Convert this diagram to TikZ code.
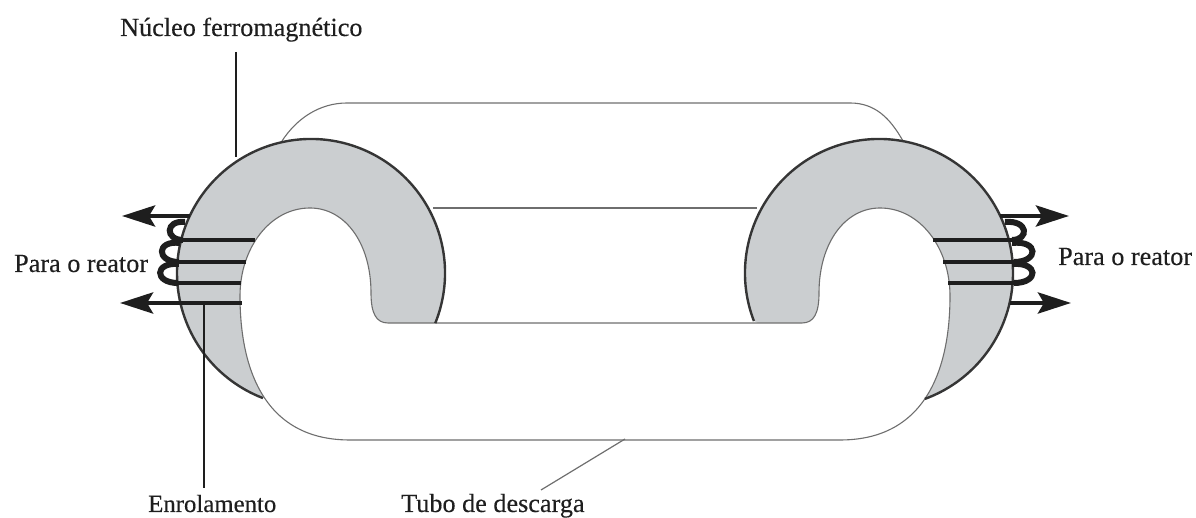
\documentclass[tikz,border=0pt]{standalone}
\usepackage{fontspec}
\setmainfont{Liberation Serif}
\newfontfamily\labfont[FakeBold=0.25]{Liberation Serif}
\usetikzlibrary{arrows.meta}
\definecolor{coregray}{HTML}{CBCED0}
\definecolor{ink}{HTML}{1E1E1E}
\definecolor{thin}{HTML}{6E6E6E}
\tikzset{
  x=1pt,y=1pt,
  lab/.style={inner sep=0pt,anchor=base west,text=ink,font=\labfont\fontsize{26.2}{29}\selectfont},
  tubeline/.style={draw=thin,line width=1.1pt},
  rim/.style={draw=ink!90,line width=2.4pt},
  winding/.style={draw=ink,line width=3.6pt},
  coil/.style={draw=ink,line width=6pt},
  lead/.style={draw=ink,-{Stealth[length=33pt,width=21pt,inset=6pt]},line width=4.6pt},
  pointer/.style={draw=ink,line width=2pt},
  pointerthin/.style={draw=thin,line width=1.2pt}
}
\begin{document}
\begin{tikzpicture}
\useasboundingbox (0,0) rectangle (1196,518);
% upper part of the tube, behind the core
\draw[tubeline] (282,377) .. controls (297,400) and (320,415) .. (347,415) -- (850,415)
   .. controls (875,415) and (890,400) .. (903,377);
\draw[tubeline] (433,310) -- (757,310);
% core halves
\fill[coregray] (311,245) ++(-22:134) arc[start angle=-22,end angle=249,radius=134] -- cycle;
\fill[coregray] (879,245) ++(201:134) arc[start angle=201,end angle=-70,radius=134] -- cycle;
% discharge tube
\path[fill=white,tubeline]
  (435,195) -- (388,195) .. controls (376,195) and (371,205) .. (371,225)
  .. controls (371,275) and (345,310) .. (310,310)
  .. controls (270,310) and (240,270) .. (240,222)
  .. controls (240,165) and (255,78) .. (350,78)
  -- (840,78)
  .. controls (935,78) and (950,165) .. (950,222)
  .. controls (950,270) and (920,310) .. (880,310)
  .. controls (845,310) and (819,275) .. (819,225)
  .. controls (819,205) and (814,195) .. (802,195)
  -- (753,195) -- cycle;
% core rims
\draw[rim] (311,245) ++(-22:134) arc[start angle=-22,end angle=249,radius=134];
\draw[rim] (879,245) ++(201:134) arc[start angle=201,end angle=-70,radius=134];
% named points
\coordinate (lA) at (255,278); \coordinate (lAe) at (183,278);
\coordinate (lB) at (246,256); \coordinate (lBe) at (179,256);
\coordinate (lC) at (241,235); \coordinate (lCe) at (178,235);
\coordinate (lTop) at (190,302); \coordinate (lTopTip) at (122,302);
\coordinate (lBot) at (242,215); \coordinate (lBotTip) at (120,215);
\coordinate (rA) at (933,278); \coordinate (rAe) at (1012,278);
\coordinate (rB) at (943,256); \coordinate (rBe) at (1014,256);
\coordinate (rC) at (948,235); \coordinate (rCe) at (1014,235);
\coordinate (rTop) at (1000,302); \coordinate (rTopTip) at (1069,302);
\coordinate (rBot) at (1010,215); \coordinate (rBotTip) at (1071,215);
% windings left
\draw[winding] (lA) -- (lAe);
\draw[winding] (lB) -- (lBe);
\draw[winding] (lC) -- (lCe);
\draw[coil] (185,296) .. controls (165,298) and (165,278) .. (lAe);
\draw[coil] (180,275) .. controls (156,278) and (156,256) .. (lBe);
\draw[coil] (179,254) .. controls (154,256) and (154,235) .. (lCe);
\draw[lead] (lTop) -- (lTopTip);
\draw[lead] (lBot) -- (lBotTip);
% windings right
\draw[winding] (rA) -- (rAe);
\draw[winding] (rB) -- (rBe);
\draw[winding] (rC) -- (rCe);
\draw[coil] (1005,296) .. controls (1029,298) and (1029,278) .. (rAe);
\draw[coil] (1012,275) .. controls (1039,278) and (1039,256) .. (rBe);
\draw[coil] (1012,254) .. controls (1039,256) and (1039,235) .. (rCe);
\draw[lead] (rTop) -- (rTopTip);
\draw[lead] (rBot) -- (rBotTip);
% labels
\node[lab] (nucleo) at (120,482) {Núcleo ferromagnético};
\node[lab,font=\labfont\fontsize{24.8}{28}\selectfont] (enrol) at (148,6) {Enrolamento};
\node[lab] (tubo) at (401,6) {Tubo de descarga};
\node[lab] (paraL) at (14,246) {Para o reator};
\node[lab] (paraR) at (1058,253) {Para o reator};
% pointers
\coordinate (nA) at (236,466); \coordinate (nB) at (236,361);
\coordinate (eA) at (204,215); \coordinate (eB) at (204,30);
\coordinate (tA) at (625,79); \coordinate (tB) at (541,28);
\draw[pointer] (nA) -- (nB);
\draw[pointer] (eA) -- (eB);
\draw[pointerthin] (tA) -- (tB);
\end{tikzpicture}
\end{document}
